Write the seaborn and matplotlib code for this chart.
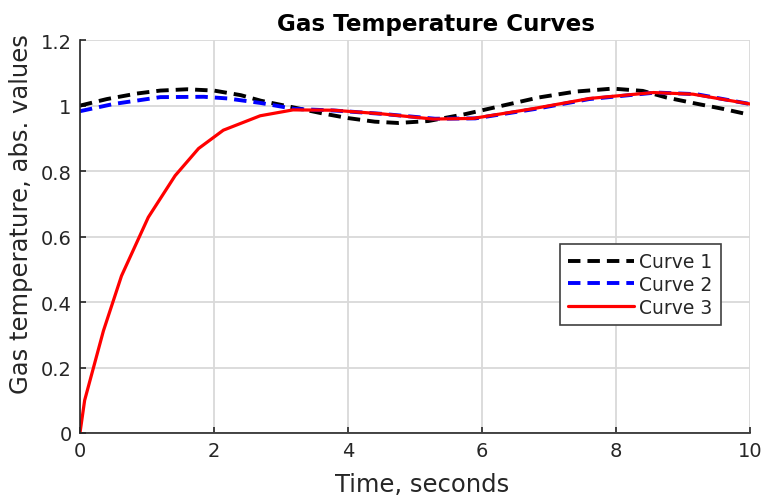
import numpy as np
import pandas as pd
import matplotlib
matplotlib.use("Agg")
import matplotlib.pyplot as plt
import matplotlib.ticker as mticker
import seaborn as sns

# Curve 1 (black dashed)
x1 = [0.0, 0.4, 0.85, 1.2, 1.6, 2.0, 2.4, 2.7, 3.2, 3.6, 4.0, 4.4, 4.75, 5.2, 5.75, 6.2, 6.85, 7.4, 7.95, 8.4, 8.75, 9.2, 9.6, 10.0]
y1 = [1.000, 1.020, 1.037, 1.046, 1.050, 1.046, 1.032, 1.015, 0.994, 0.977, 0.962, 0.951, 0.947, 0.953, 0.974, 0.995, 1.025, 1.043, 1.052, 1.045, 1.025, 1.006, 0.990, 0.972]

# Curve 2 (blue dashed)
x2 = [0.0, 0.5, 1.2, 1.85, 2.2, 2.7, 3.2, 3.8, 4.5, 5.3, 5.9, 6.8, 7.6, 8.6, 9.2, 10.0]
y2 = [0.983, 1.005, 1.026, 1.027, 1.022, 1.008, 0.990, 0.985, 0.975, 0.960, 0.961, 0.990, 1.020, 1.040, 1.035, 1.005]

# Curve 3 (red solid)
x3 = [0.0, 0.07, 0.35, 0.62, 1.02, 1.42, 1.77, 2.14, 2.69, 3.18, 3.78, 4.5, 5.27, 5.87, 6.77, 7.61, 8.56, 9.15, 10.0]
y3 = [0.0, 0.10, 0.312, 0.48, 0.659, 0.786, 0.869, 0.925, 0.969, 0.987, 0.986, 0.975, 0.959, 0.961, 0.991, 1.022, 1.040, 1.035, 1.005]

labels = ["Curve 1", "Curve 2", "Curve 3"]

sns.set_style("whitegrid")
plt.rcParams["font.family"] = ["DejaVu Sans"]

fig = plt.figure(figsize=(7.66, 5.02), dpi=100)
ax = fig.add_axes([0.1044, 0.1355, 0.8746, 0.7825])

sns.lineplot(x=x1, y=y1, color="black", linestyle=(0, (3.2, 1.8)), linewidth=2.8,
             sort=False, estimator=None, label=labels[0], ax=ax)
sns.lineplot(x=x2, y=y2, color="#0000ff", linestyle=(0, (3.2, 1.8)), linewidth=2.8,
             sort=False, estimator=None, label=labels[1], ax=ax)
sns.lineplot(x=x3, y=y3, color="#ff0000", linestyle="-", linewidth=2.3,
             sort=False, estimator=None, label=labels[2], ax=ax)

ax.set_xlim(0, 10)
ax.set_ylim(0, 1.2)
ax.set_xticks([0, 2, 4, 6, 8, 10])
ax.set_yticks([0, 0.2, 0.4, 0.6, 0.8, 1.0, 1.2])
ax.yaxis.set_major_formatter(mticker.FormatStrFormatter("%g"))
ax.grid(True, color="#d9d9d9", linewidth=1.3)
for s in ["top", "right"]:
    ax.spines[s].set_visible(False)
for s in ["left", "bottom"]:
    ax.spines[s].set_color("#262626")
    ax.spines[s].set_linewidth(1.2)
ax.tick_params(axis="both", direction="in", length=4.5, width=1.2, colors="#262626",
               labelsize=14, labelcolor="#262626", left=True, bottom=True, pad=6)

ax.set_xlabel("Time, seconds", fontsize=17.5, color="#262626", labelpad=2)
ax.set_ylabel("Gas temperature, abs. values", fontsize=17.5, color="#262626")
ax.yaxis.set_label_coords(-0.07, 0.561)
ax.xaxis.set_label_coords(0.51, -0.1)
ax.set_title("Gas Temperature Curves", fontsize=16.6, fontweight="heavy", color="black",
             x=0.531, pad=7)

leg = ax.legend(loc="upper left", bbox_to_anchor=(0.716, 0.482), fontsize=13.5,
                frameon=True, fancybox=False, edgecolor="#404040", framealpha=1,
                handlelength=3.5, handletextpad=0.3, borderpad=0.45, labelspacing=0.2,
                borderaxespad=0)
leg.get_frame().set_linewidth(1.2)

fig.savefig("out.png", dpi=100)
